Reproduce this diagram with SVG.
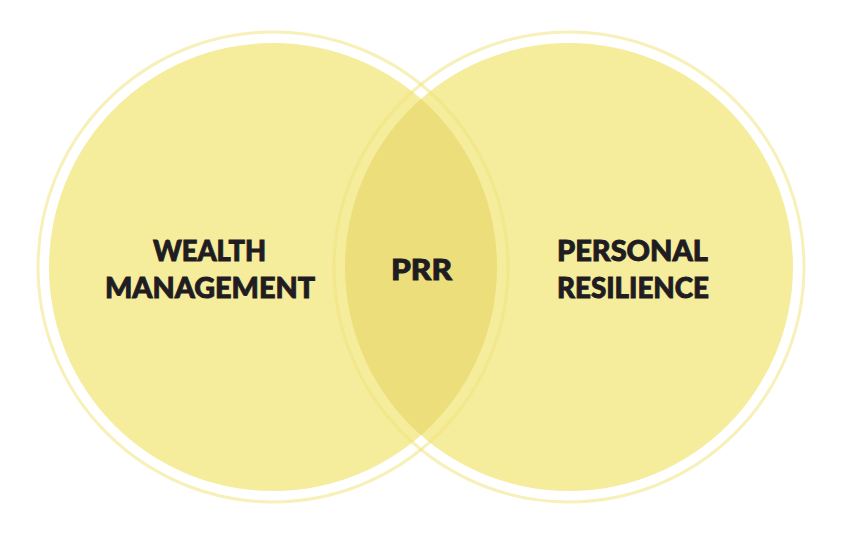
<svg xmlns="http://www.w3.org/2000/svg" width="853" height="533" viewBox="0 0 853 533">
<style>
.disc{fill:#f5ec9c}
.overlap{fill:#ecde7b}
.ring{fill:none;stroke:#f1e47e;stroke-opacity:.55;stroke-width:3}
text{font-family:"Lato","Liberation Sans",sans-serif;font-weight:900;font-size:29px;fill:#1f1c22;stroke:#1f1c22;stroke-width:.9;text-anchor:start}
</style>
<defs>
<clipPath id="clipLeft"><circle cx="273" cy="267" r="224"/></clipPath>
</defs>
<rect width="853" height="533" fill="#ffffff"/>
<g id="wealth-management">
<circle class="disc" cx="273" cy="267" r="224"/>
<text x="153" y="261" textLength="113" lengthAdjust="spacingAndGlyphs">WEALTH</text>
<text x="105" y="298" textLength="210" lengthAdjust="spacingAndGlyphs">MANAGEMENT</text>
</g>
<g id="personal-resilience">
<circle class="disc" cx="569" cy="267" r="224"/>
<text x="557" y="261" textLength="151" lengthAdjust="spacingAndGlyphs">PERSONAL</text>
<text x="557" y="298" textLength="152" lengthAdjust="spacingAndGlyphs">RESILIENCE</text>
</g>
<g id="prr">
<circle class="overlap" cx="569" cy="267" r="224" clip-path="url(#clipLeft)"/>
<text x="391" y="280" textLength="61" lengthAdjust="spacingAndGlyphs">PRR</text>
</g>
<g id="connectors">
<circle class="ring" cx="273" cy="267" r="235"/>
<circle class="ring" cx="569" cy="267" r="235"/>
</g>
</svg>
